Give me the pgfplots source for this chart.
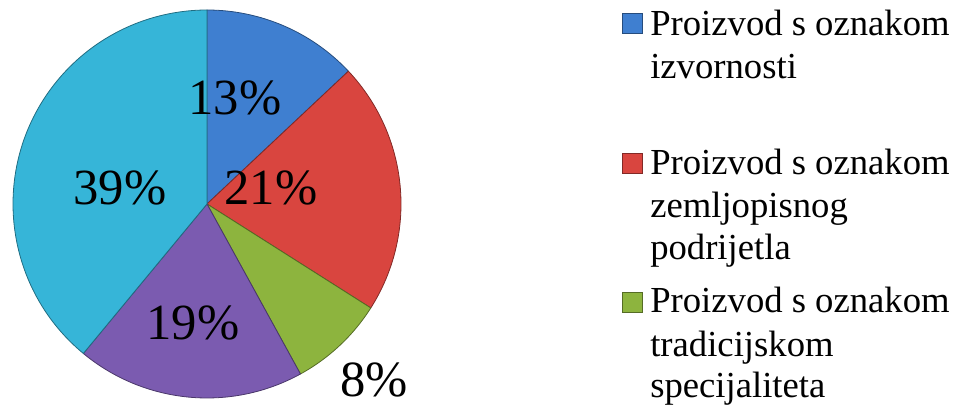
\documentclass[border=0pt]{standalone}
\usepackage{pgfplots}
\pgfplotsset{compat=1.18}
\usepackage{pgfplotstable}
\usepackage{fontspec}
\setmainfont{Liberation Serif}
\definecolor{cA}{HTML}{3F7FD0}
\definecolor{cB}{HTML}{D9453F}
\definecolor{cC}{HTML}{8DB43E}
\definecolor{cD}{HTML}{7B5BB0}
\definecolor{cE}{HTML}{36B5D8}
\pgfplotstableread{
value color lx ly label
13 cA 235 292 13
21 cB 271 202 21
8  cC 374 11  8
19 cD 193 67  19
39 cE 120 202 39
}\piedata
\begin{document}
\begin{tikzpicture}
\path[use as bounding box] (0,0) rectangle (722.25pt,305.25pt);
\begin{axis}[
  at={(0,0)}, anchor=south west,
  x=0.75pt, y=0.75pt,
  xmin=0, xmax=963, ymin=0, ymax=407,
  hide axis, clip=false,
]
\pgfmathsetmacro{\ang}{90}
\pgfplotsinvokeforeach{0,...,4}{
  \pgfplotstablegetelem{#1}{value}\of\piedata \let\v\pgfplotsretval
  \pgfplotstablegetelem{#1}{color}\of\piedata \let\c\pgfplotsretval
  \pgfmathsetmacro{\endang}{\ang-3.6*\v}
  \edef\tmp{\noexpand\fill[\c, draw=\c!60!black, line width=0.6pt, line join=round]
    (axis cs:207,203) -- ++(\ang:145.5pt)
    arc[start angle=\ang, end angle=\endang, radius=145.5pt] -- cycle;}
  \tmp
  \global\let\ang\endang
}
\pgfplotsinvokeforeach{0,...,4}{
  \pgfplotstablegetelem{#1}{lx}\of\piedata \let\lx\pgfplotsretval
  \pgfplotstablegetelem{#1}{ly}\of\piedata \let\ly\pgfplotsretval
  \pgfplotstablegetelem{#1}{label}\of\piedata \let\lb\pgfplotsretval
  \edef\tmp{\noexpand\node[anchor=base, inner sep=0pt, font=\noexpand\fontsize{38}{44}\noexpand\selectfont]
    at (axis cs:\lx,\ly) {\lb\noexpand\%};}
  \tmp
}
% legend
\fill[cA, draw=cA!60!black, line width=0.4pt] (axis cs:622,374) rectangle (axis cs:642,394);
\fill[cB, draw=cB!60!black, line width=0.4pt] (axis cs:622,234) rectangle (axis cs:642,254);
\fill[cC, draw=cC!60!black, line width=0.4pt] (axis cs:622,95) rectangle (axis cs:642,115);
\begin{scope}[every node/.style={anchor=base west, inner sep=0pt, font=\fontsize{27.5}{32}\selectfont}]
\node at (axis cs:650,371) {Proizvod s oznakom};
\node at (axis cs:650,328) {izvornosti};
\node at (axis cs:650,232) {Proizvod s oznakom};
\node at (axis cs:650,189) {zemljopisnog};
\node at (axis cs:650,147) {podrijetla};
\node at (axis cs:650,94) {Proizvod s oznakom};
\node at (axis cs:650,50) {tradicijskom};
\node at (axis cs:650,9) {specijaliteta};
\end{scope}
\end{axis}
\end{tikzpicture}
\end{document}
